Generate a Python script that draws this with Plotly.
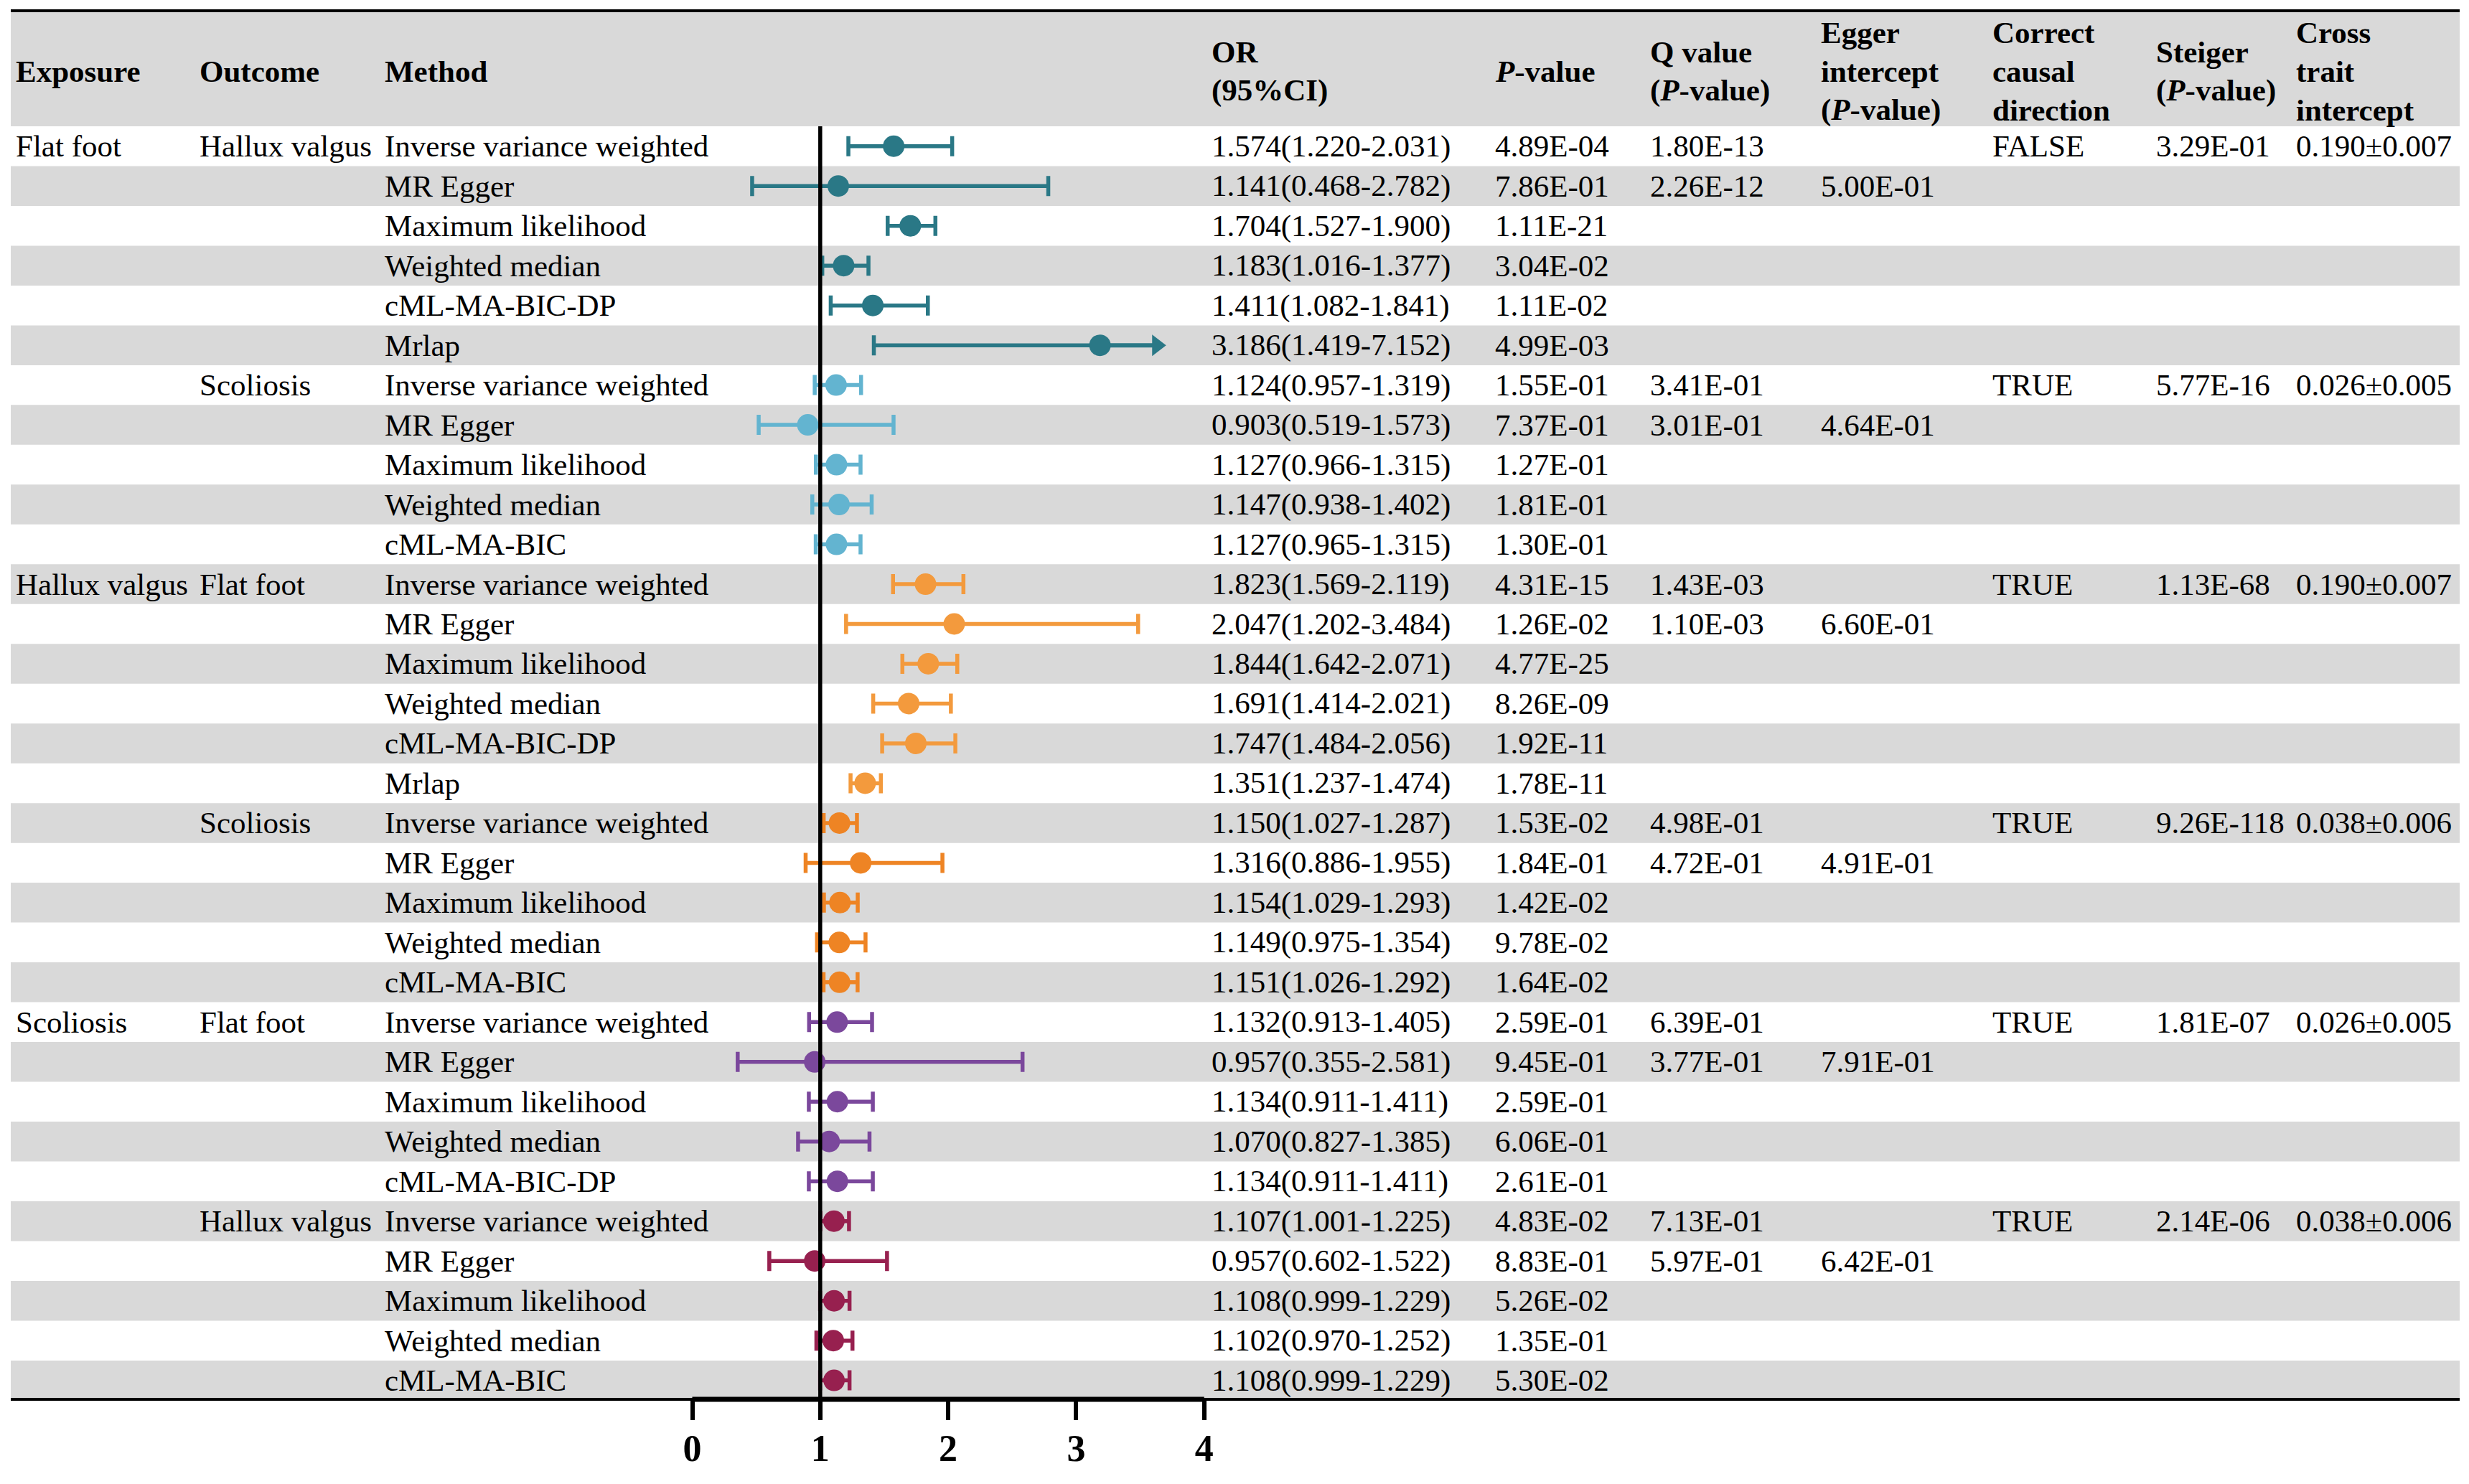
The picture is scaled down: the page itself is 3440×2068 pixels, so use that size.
import numpy as np
import plotly.graph_objects as go

# ---------------- data ----------------
group_exposure = ["Flat foot", "Flat foot", "Hallux valgus", "Hallux valgus", "Scoliosis", "Scoliosis"]
group_outcome = ["Hallux valgus", "Scoliosis", "Flat foot", "Scoliosis", "Flat foot", "Hallux valgus"]
group_colors = ["#2A7886", "#63B4D0", "#F39A3D", "#EE8424", "#7B489C", "#97204F"]
group_correct = ["FALSE", "TRUE", "TRUE", "TRUE", "TRUE", "TRUE"]
group_steiger = ["3.29E-01", "5.77E-16", "1.13E-68", "9.26E-118", "1.81E-07", "2.14E-06"]
group_cross = ["0.190±0.007", "0.026±0.005", "0.190±0.007", "0.038±0.006", "0.026±0.005", "0.038±0.006"]

methods = [
    ["Inverse variance weighted", "MR Egger", "Maximum likelihood", "Weighted median", "cML-MA-BIC-DP", "Mrlap"],
    ["Inverse variance weighted", "MR Egger", "Maximum likelihood", "Weighted median", "cML-MA-BIC"],
    ["Inverse variance weighted", "MR Egger", "Maximum likelihood", "Weighted median", "cML-MA-BIC-DP", "Mrlap"],
    ["Inverse variance weighted", "MR Egger", "Maximum likelihood", "Weighted median", "cML-MA-BIC"],
    ["Inverse variance weighted", "MR Egger", "Maximum likelihood", "Weighted median", "cML-MA-BIC-DP"],
    ["Inverse variance weighted", "MR Egger", "Maximum likelihood", "Weighted median", "cML-MA-BIC"],
]
odds = [
    [1.574, 1.141, 1.704, 1.183, 1.411, 3.186],
    [1.124, 0.903, 1.127, 1.147, 1.127],
    [1.823, 2.047, 1.844, 1.691, 1.747, 1.351],
    [1.150, 1.316, 1.154, 1.149, 1.151],
    [1.132, 0.957, 1.134, 1.070, 1.134],
    [1.107, 0.957, 1.108, 1.102, 1.108],
]
ci_low = [
    [1.220, 0.468, 1.527, 1.016, 1.082, 1.419],
    [0.957, 0.519, 0.966, 0.938, 0.965],
    [1.569, 1.202, 1.642, 1.414, 1.484, 1.237],
    [1.027, 0.886, 1.029, 0.975, 1.026],
    [0.913, 0.355, 0.911, 0.827, 0.911],
    [1.001, 0.602, 0.999, 0.970, 0.999],
]
ci_high = [
    [2.031, 2.782, 1.900, 1.377, 1.841, 7.152],
    [1.319, 1.573, 1.315, 1.402, 1.315],
    [2.119, 3.484, 2.071, 2.021, 2.056, 1.474],
    [1.287, 1.955, 1.293, 1.354, 1.292],
    [1.405, 2.581, 1.411, 1.385, 1.411],
    [1.225, 1.522, 1.229, 1.252, 1.229],
]
p_values = [
    ["4.89E-04", "7.86E-01", "1.11E-21", "3.04E-02", "1.11E-02", "4.99E-03"],
    ["1.55E-01", "7.37E-01", "1.27E-01", "1.81E-01", "1.30E-01"],
    ["4.31E-15", "1.26E-02", "4.77E-25", "8.26E-09", "1.92E-11", "1.78E-11"],
    ["1.53E-02", "1.84E-01", "1.42E-02", "9.78E-02", "1.64E-02"],
    ["2.59E-01", "9.45E-01", "2.59E-01", "6.06E-01", "2.61E-01"],
    ["4.83E-02", "8.83E-01", "5.26E-02", "1.35E-01", "5.30E-02"],
]
# Q value for IVW and MR Egger rows, Egger intercept for the MR Egger row
q_ivw = ["1.80E-13", "3.41E-01", "1.43E-03", "4.98E-01", "6.39E-01", "7.13E-01"]
q_egger = ["2.26E-12", "3.01E-01", "1.10E-03", "4.72E-01", "3.77E-01", "5.97E-01"]
egger_intercept = ["5.00E-01", "4.64E-01", "6.60E-01", "4.91E-01", "7.91E-01", "6.42E-01"]

# ---------------- layout constants ----------------
W, H = 3440, 2068
ROW_H = 55.48
TOP = 176          # pixel where first data row starts
PLOT_BOTTOM = 1950
X0_PX, X_UNIT = 964.5, 178.3
XCLIP = 3.7
LEFT_PX, RIGHT_PX = 15, 3427
FONT = "Liberation Serif"
FS = 43
GRAY = "#D9D9D9"


def row_of(px):
    return (px - TOP) / ROW_H - 0.5


def fx(px):
    return px / W


col_px = {"exp": 20, "out": 276, "met": 534, "or": 1686, "p": 2081, "q": 2297,
          "egger": 2535, "dir": 2774, "steiger": 3002, "cross": 3197}

fig = go.Figure()
shapes = []
ann = []


def add_text(px, y, text, size=FS):
    ann.append(dict(x=fx(px), xref="paper", y=y, yref="y", text=text, showarrow=False,
                    xanchor="left", yanchor="middle", font=dict(family=FONT, size=size, color="black")))


# header band + lines
shapes.append(dict(type="rect", xref="paper", yref="y", x0=fx(LEFT_PX), x1=fx(RIGHT_PX),
                   y0=row_of(17), y1=-0.5, fillcolor=GRAY, line_width=0, layer="below"))
shapes.append(dict(type="line", xref="paper", yref="y", x0=fx(LEFT_PX), x1=fx(RIGHT_PX),
                   y0=row_of(15), y1=row_of(15), line=dict(color="black", width=4)))

headers = [
    ("exp", ["Exposure"]), ("out", ["Outcome"]), ("met", ["Method"]),
    ("or", ["OR", "(95%CI)"]), ("p", ["<i>P</i>-value"]),
    ("q", ["Q value", "(<i>P</i>-value)"]), ("egger", ["Egger", "intercept", "(<i>P</i>-value)"]),
    ("dir", ["Correct", "causal", "direction"]), ("steiger", ["Steiger", "(<i>P</i>-value)"]),
    ("cross", ["Cross", "trait", "intercept"]),
]
line_pos = {1: [99], 2: [72, 126], 3: [45, 99, 153]}
for key, lines in headers:
    for t, py in zip(lines, line_pos[len(lines)]):
        add_text(col_px[key], row_of(py), "<b>" + t + "</b>")

row = 0
prev_exp = None
for g in range(len(methods)):
    ys, xs, plus, minus = [], [], [], []
    for k, m in enumerate(methods[g]):
        y = row
        if row % 2 == 1:
            shapes.append(dict(type="rect", xref="paper", yref="y", x0=fx(LEFT_PX), x1=fx(RIGHT_PX),
                               y0=y - 0.5, y1=y + 0.5, fillcolor=GRAY, line_width=0, layer="below"))
        if k == 0:
            if group_exposure[g] != prev_exp:
                add_text(col_px["exp"], y, group_exposure[g])
            add_text(col_px["out"], y, group_outcome[g])
            add_text(col_px["q"], y, q_ivw[g])
            add_text(col_px["dir"], y, group_correct[g])
            add_text(col_px["steiger"], y, group_steiger[g])
            add_text(col_px["cross"], y, group_cross[g])
        if k == 1:
            add_text(col_px["q"], y, q_egger[g])
            add_text(col_px["egger"], y, egger_intercept[g])
        add_text(col_px["met"], y, m)
        o, lo, hi = odds[g][k], ci_low[g][k], ci_high[g][k]
        add_text(col_px["or"], y, f"{o:.3f}({lo:.3f}-{hi:.3f})")
        add_text(col_px["p"], y, p_values[g][k])

        ys.append(y)
        xs.append(o)
        minus.append(o - lo)
        if hi > XCLIP:
            # CI runs off the axis: draw it as an arrow
            plus.append(0)
            fig.add_trace(go.Scatter(x=[o, XCLIP - 0.09], y=[y, y], mode="lines",
                                     line=dict(color=group_colors[g], width=6), hoverinfo="skip"))
            fig.add_trace(go.Scatter(x=[XCLIP - 0.07], y=[y], mode="markers",
                                     marker=dict(symbol="triangle-right", size=26, color=group_colors[g]),
                                     hoverinfo="skip"))
        else:
            plus.append(hi - o)
        row += 1
    prev_exp = group_exposure[g]

    fig.add_trace(go.Scatter(
        x=xs, y=ys, mode="markers",
        marker=dict(symbol="circle", size=30, color=group_colors[g]),
        error_x=dict(type="data", symmetric=False, array=plus, arrayminus=minus,
                     color=group_colors[g], thickness=5.5, width=14),
    ))

n_rows = row

# reference line at OR = 1
shapes.append(dict(type="line", xref="x", yref="y", x0=1, x1=1, y0=-0.5, y1=n_rows - 0.5,
                   line=dict(color="black", width=5.5), layer="above"))
# bottom border and axis line
shapes.append(dict(type="line", xref="paper", yref="paper", x0=fx(LEFT_PX), x1=fx(RIGHT_PX),
                   y0=0, y1=0, line=dict(color="black", width=4)))
shapes.append(dict(type="line", xref="x", yref="paper", x0=0, x1=4, y0=0, y1=0,
                   line=dict(color="black", width=7)))

fig.update_layout(
    width=W, height=H,
    margin=dict(l=0, r=0, t=0, b=H - PLOT_BOTTOM, pad=0),
    paper_bgcolor="white", plot_bgcolor="white",
    showlegend=False,
    shapes=shapes, annotations=ann,
    xaxis=dict(range=[-X0_PX / X_UNIT, (W - X0_PX) / X_UNIT], tickvals=[0, 1, 2, 3, 4],
               ticks="outside", ticklen=28, tickwidth=6, tickcolor="black",
               ticklabelstandoff=-5,
               tickfont=dict(family=FONT, size=52, color="black", weight="bold"),
               showgrid=False, zeroline=False, showline=False, fixedrange=True),
    yaxis=dict(range=[row_of(PLOT_BOTTOM), row_of(0)], visible=False, showgrid=False,
               zeroline=False, fixedrange=True),
)

fig.write_html("out.html", config={"displayModeBar": False},
               post_script="document.body.style.margin='0';")
